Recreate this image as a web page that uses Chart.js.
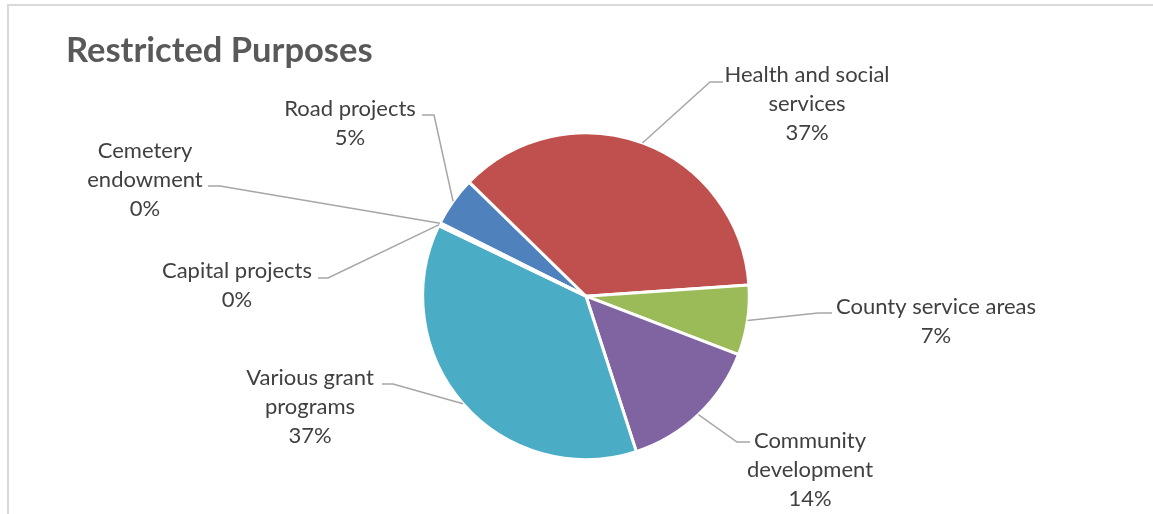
<!DOCTYPE html>
<html>
<head>
<meta charset="utf-8">
<script src="https://cdn.jsdelivr.net/npm/chart.js@4.4.0/dist/chart.umd.min.js"></script>
<style>
  html, body { margin: 0; padding: 0; background: #fff; overflow: hidden; }
  #wrap { position: relative; width: 1153px; height: 514px; }
  #frame {
    position: absolute; left: 7px; top: 4px; width: 1200px; height: 560px;
    border-top: 2px solid #d9d9d9; border-left: 2px solid #d9d9d9;
  }
  #myChart { position: absolute; left: 0; top: 0; }
</style>
</head>
<body>
<div id="wrap">
  <div id="frame"></div>
  <canvas id="myChart" width="1153" height="514"></canvas>
</div>
<script>
const categories = [
  "Road projects",
  "Health and social services",
  "County service areas",
  "Community development",
  "Various grant programs",
  "Capital projects",
  "Cemetery endowment",
];
const shares = [4.9, 36.6, 6.9, 14.2, 37.1, 0.2, 0.1];
const sliceColors = ["#4F81BD", "#C0504D", "#9BBB59", "#8064A2", "#4BACC6", "#F79646", "#2C4D75"];

// how each category label wraps
const labelLines = [
  ["Road projects"],
  ["Health and social", "services"],
  ["County service areas"],
  ["Community", "development"],
  ["Various grant", "programs"],
  ["Capital projects"],
  ["Cemetery", "endowment"],
];

// label placement: [centre x, first baseline y]
const labelSpots = [[350, 116], [807, 82], [936, 314], [810, 448], [310, 385], [237, 278], [145, 158]];
// leader line: [x at label, x at bend, y]
const leaderBends = [[422, 434, 115], [723, 710, 82], [832, 818, 313], [750, 737, 442], [382, 393, 384], [318, 328, 278], [208, 220, 186]];

const total = shares.reduce((a, b) => a + b, 0);

const outsideLabels = {
  id: "outsideLabels",
  afterDraw(chart) {
    const ctx = chart.ctx;
    const arcs = chart.getDatasetMeta(0).data;
    ctx.save();
    arcs.forEach((arc, i) => {
      const mid = (arc.startAngle + arc.endAngle) / 2;
      const px = arc.x + Math.cos(mid) * arc.outerRadius;
      const py = arc.y + Math.sin(mid) * arc.outerRadius;
      const [lx, bx, by] = leaderBends[i];
      ctx.strokeStyle = "#a6a6a6";
      ctx.lineWidth = 1.5;
      ctx.beginPath();
      ctx.moveTo(px, py);
      ctx.lineTo(bx, by);
      ctx.lineTo(lx, by);
      ctx.stroke();

      const pct = Math.round((shares[i] / total) * 100) + "%";
      const lines = labelLines[i].concat([pct]);
      const [cx, cy] = labelSpots[i];
      ctx.fillStyle = "#404040";
      ctx.font = "22px Lato";
      ctx.textAlign = "center";
      ctx.textBaseline = "alphabetic";
      lines.forEach((t, k) => ctx.fillText(t, cx, cy + k * 29));
    });
    ctx.restore();
  },
};

const ctx = document.getElementById("myChart").getContext("2d");

new Chart(ctx, {
  type: "pie",
  data: {
    labels: categories,
    datasets: [
      {
        data: shares,
        backgroundColor: sliceColors,
        borderColor: "#ffffff",
        borderWidth: 3,
      },
    ],
  },
  options: {
    responsive: false,
    animation: false,
    rotation: -63.3,
    layout: {
      padding: { top: 18, bottom: 53, left: 66, right: 47 },
    },
    plugins: {
      legend: { display: false },
      tooltip: { enabled: false },
      title: {
        display: true,
        text: "Restricted Purposes",
        align: "start",
        color: "#595959",
        font: { family: "Lato", size: 34.5, weight: "bold" },
        padding: { top: 12, bottom: 60 },
      },
    },
  },
  plugins: [outsideLabels],
});
</script>
</body>
</html>
